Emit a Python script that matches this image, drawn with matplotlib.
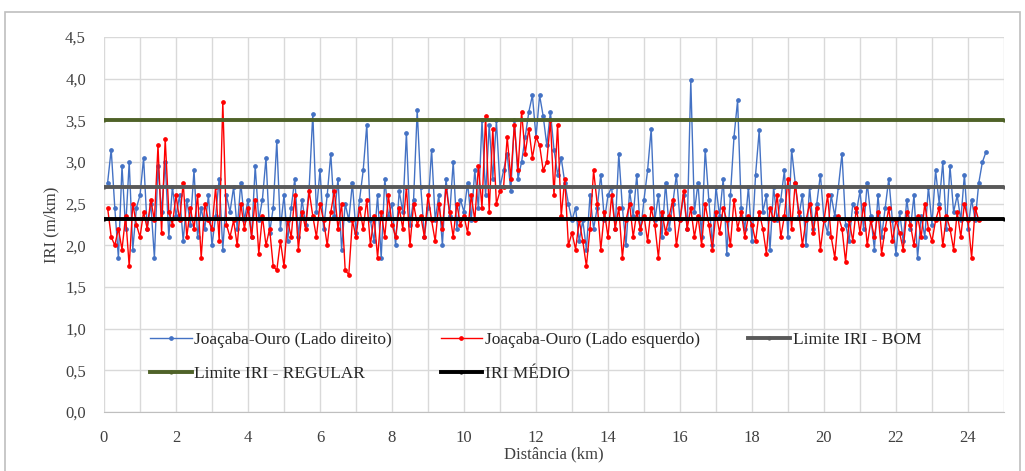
import numpy as np
import matplotlib.pyplot as plt
from matplotlib.ticker import MultipleLocator, FuncFormatter
from matplotlib.patches import Rectangle

# IRI lado direito (a cada 0,1 km, de 0,1 a 24,5 km)
iri_direito = [
    2.75, 3.15, 2.45, 1.85, 2.95, 2.2, 3.0, 1.95, 2.45, 2.6,
    3.05, 2.2, 2.5, 1.85, 2.95, 2.4, 3.0, 2.1, 2.7, 2.35,
    2.6, 2.05, 2.55, 2.25, 2.9, 2.1, 2.45, 2.2, 2.6, 2.0,
    2.35, 2.8, 1.95, 2.6, 2.4, 2.7, 2.2, 2.75, 2.3, 2.55,
    2.1, 2.95, 2.3, 2.55, 3.05, 2.15, 2.45, 3.25, 2.2, 2.6,
    2.05, 2.45, 2.8, 2.1, 2.55, 2.25, 2.7, 3.58, 2.4, 2.9,
    2.2, 2.6, 3.1, 2.35, 2.8, 1.95, 2.5, 2.3, 2.75, 2.15,
    2.55, 2.9, 3.45, 2.3, 2.05, 2.6, 1.85, 2.8, 2.35, 2.5,
    2.0, 2.65, 2.4, 3.35, 2.25, 2.55, 3.62, 2.7, 2.1, 2.45,
    3.15, 2.3, 2.6, 2.0, 2.8, 2.35, 3.0, 2.2, 2.55, 2.4,
    2.75, 2.3, 2.9, 2.45, 3.5, 2.6, 3.45, 2.8, 3.5, 2.7,
    2.9, 3.1, 2.65, 3.5, 2.8, 3.0, 3.3, 3.6, 3.8, 3.3,
    3.8, 3.55, 3.2, 3.6, 3.15, 2.85, 3.05, 2.75, 2.5, 2.3,
    2.45, 2.05, 2.3, 1.95, 2.6, 2.2, 2.45, 2.85, 2.3, 2.6,
    2.7, 2.2, 3.1, 2.45, 2.0, 2.65, 2.35, 2.85, 2.15, 2.55,
    2.9, 3.4, 2.3, 2.6, 2.1, 2.75, 2.2, 2.5, 2.85, 2.3,
    2.6, 2.2, 3.98, 2.4, 2.75, 2.1, 3.15, 2.55, 2.0, 2.7,
    2.35, 2.8, 1.9, 2.6, 3.3, 3.74, 2.45, 2.2, 2.7, 2.05,
    2.85, 3.38, 2.4, 2.6, 1.95, 2.7, 2.3, 2.55, 2.9, 2.1,
    3.15, 2.75, 2.35, 2.6, 2.0, 2.7, 2.2, 2.5, 2.85, 2.3,
    2.15, 2.6, 2.35, 2.7, 3.1, 2.25, 2.05, 2.5, 2.4, 2.65,
    2.2, 2.75, 2.35, 1.95, 2.6, 2.1, 2.45, 2.8, 2.3, 1.9,
    2.4, 2.05, 2.55, 2.2, 2.6, 1.85, 2.35, 2.1, 2.7, 2.25,
    2.9, 2.5, 3.0, 2.2, 2.95, 2.4, 2.6, 2.3, 2.85, 2.2,
    2.55, 2.3, 2.75, 3.0, 3.12,
]

# IRI lado esquerdo (a cada 0,1 km, de 0,1 a 24,3 km)
iri_esquerdo = [
    2.45, 2.1, 2.0, 2.2, 1.95, 2.35, 1.75, 2.5, 2.25, 2.1,
    2.4, 2.2, 2.55, 2.3, 3.2, 2.15, 3.28, 2.4, 2.25, 2.6,
    2.3, 2.75, 2.1, 2.45, 2.2, 2.6, 1.85, 2.5, 2.3, 2.2,
    2.7, 2.05, 3.72, 2.25, 2.1, 2.3, 2.0, 2.5, 2.2, 2.45,
    2.1, 2.55, 1.9, 2.35, 2.0, 2.2, 1.75, 1.7, 2.05, 1.75,
    2.3, 2.1, 2.6, 1.95, 2.4, 2.2, 2.65, 2.35, 2.1, 2.5,
    2.3, 2.0, 2.4, 2.65, 2.2, 2.5, 1.7, 1.65, 2.3, 2.1,
    2.45, 2.2, 2.55, 2.0, 2.35, 1.85, 2.4, 2.1, 2.6, 2.25,
    2.1, 2.45, 2.2, 2.7, 2.0, 2.5, 2.25, 2.35, 2.1, 2.6,
    2.3, 2.05, 2.5, 2.2, 2.7, 2.4, 2.1, 2.5, 2.25, 2.35,
    2.15, 2.6, 2.3, 2.95, 2.45, 3.55, 2.4, 3.4, 2.5, 2.65,
    2.7, 3.3, 2.8, 3.45, 2.9, 3.6, 3.1, 3.4, 3.05, 3.3,
    3.2, 2.9, 3.0, 3.5, 2.6, 3.45, 2.35, 2.8, 2.0, 2.15,
    1.95, 2.3, 2.05, 1.75, 2.2, 2.9, 2.5, 1.95, 2.4, 2.1,
    2.6, 2.2, 2.45, 1.85, 2.3, 2.5, 2.1, 2.4, 2.2, 2.35,
    2.05, 2.45, 2.25, 1.85, 2.4, 2.15, 2.35, 2.55, 2.0, 2.3,
    2.65, 2.2, 2.45, 2.1, 2.35, 2.0, 2.5, 2.25, 1.95, 2.4,
    2.15, 2.45, 2.3, 2.0, 2.55, 2.2, 2.4, 2.1, 2.35, 2.25,
    2.05, 2.4, 2.2, 1.9, 2.45, 2.3, 2.6, 2.1, 2.35, 2.8,
    2.2, 2.75, 2.4, 2.0, 2.3, 2.5, 2.15, 2.45, 1.95, 2.3,
    2.6, 2.1, 1.85, 2.35, 2.2, 1.8, 2.3, 2.05, 2.45, 2.15,
    2.5, 2.0, 2.3, 2.1, 2.4, 1.9, 2.2, 2.45, 2.05, 2.3,
    2.15, 1.95, 2.4, 2.25, 2.0, 2.35, 2.1, 2.5, 2.2, 2.05,
    2.3, 2.45, 2.0, 2.35, 2.2, 1.95, 2.4, 2.1, 2.5, 2.3,
    1.85, 2.45, 2.3,
]

dist_direito = np.round(np.arange(1, len(iri_direito) + 1) * 0.1, 1)
dist_esquerdo = np.round(np.arange(1, len(iri_esquerdo) + 1) * 0.1, 1)

limite_x = [0, 25]
limite_bom = [2.7, 2.7]
limite_regular = [3.5, 3.5]
iri_medio = [2.32, 2.32]

plt.rcParams['font.family'] = ['Liberation Serif', 'DejaVu Serif']

fig = plt.figure(figsize=(10.25, 4.71), dpi=100)
fig.patches.append(Rectangle((0.005, -0.01), 0.99, 0.985, transform=fig.transFigure,
                             fill=False, edgecolor='#BFBFBF', linewidth=1.2))
ax = fig.add_axes([104 / 1025, 59 / 471, 900 / 1025, 375 / 471])

l1, = ax.plot(dist_direito, iri_direito, color='#4472C4', lw=1, marker='o', ms=2.4,
              label='Joaçaba-Ouro (Lado direito)', zorder=3)
l2, = ax.plot(dist_esquerdo, iri_esquerdo, color='#FF0000', lw=1, marker='o', ms=2.4,
              label='Joaçaba-Ouro (Lado esquerdo)', zorder=4)
l3, = ax.plot(limite_x, limite_bom, color='#595959', lw=2.8, marker='o', ms=2,
              label='Limite IRI - BOM', zorder=5)
l4, = ax.plot(limite_x, limite_regular, color='#4F6228', lw=2.8, marker='o', ms=2,
              label='Limite IRI - REGULAR', zorder=5)
l5, = ax.plot(limite_x, iri_medio, color='black', lw=2.8, marker='o', ms=2,
              label='IRI MÉDIO', zorder=5)

ax.set_xlim(0, 25)
ax.set_ylim(0, 4.5)
ax.xaxis.set_major_locator(MultipleLocator(2))
ax.xaxis.set_minor_locator(MultipleLocator(1))
ax.yaxis.set_major_locator(MultipleLocator(0.5))
ax.yaxis.set_major_formatter(FuncFormatter(lambda v, p: f'{v:.1f}'.replace('.', ',')))
ax.grid(True, which='both', color='#D9D9D9', lw=1, zorder=0)
ax.set_axisbelow(True)
for s in ['top', 'right', 'left']:
    ax.spines[s].set_visible(False)
ax.spines['bottom'].set_color('#BFBFBF')
ax.tick_params(which='both', length=0, labelsize=12, colors='#404040', pad=13)

ax.set_ylabel('IRI (m/km)', fontsize=12, color='#404040', labelpad=4)
ax.set_xlabel('Distância (km)', fontsize=12, color='#404040', labelpad=0)

ax.legend([l1, l4, l2, l5, l3],
          ['Joaçaba-Ouro (Lado direito)', 'Limite IRI - REGULAR',
           'Joaçaba-Ouro (Lado esquerdo)', 'IRI MÉDIO', 'Limite IRI - BOM'],
          ncol=3, loc='lower left', bbox_to_anchor=(0.051, 0.08), frameon=False,
          fontsize=12.5, handlelength=2.4, columnspacing=2.8, labelspacing=1.0,
          handletextpad=0.15, borderpad=0, borderaxespad=0, labelcolor='#262626')

fig.savefig('out.png', dpi=100)
